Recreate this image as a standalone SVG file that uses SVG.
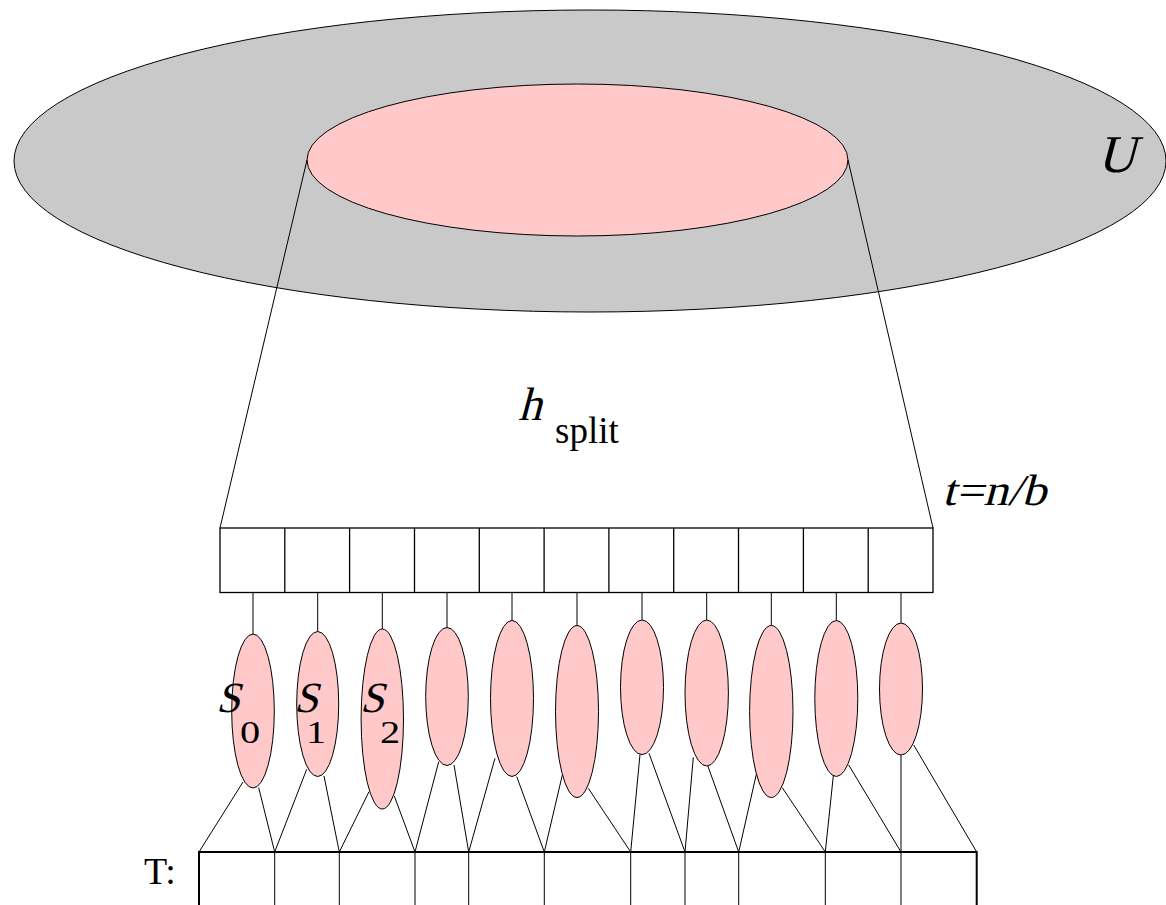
<svg xmlns="http://www.w3.org/2000/svg" width="1166" height="905" viewBox="0 0 1166 905">
<style>
  .ln { stroke: #000; stroke-width: 1; fill: none; }
  .thick { stroke: #000; stroke-width: 2; fill: none; }
  .cell { stroke: #000; stroke-width: 1.3; fill: #fff; }
  .set { fill: #ffc9c9; stroke: #000; stroke-width: 1; }
  .rm { font-family: "Liberation Serif", "Times New Roman", serif; font-style: normal; fill: #000; }
</style>
<rect width="1166" height="905" fill="#fff"/>

<g id="universe">
  <ellipse cx="590" cy="161" rx="576" ry="151" fill="#c9c9c9" stroke="#000" stroke-width="1"/>
  <text class="rm" transform="translate(1097,172) skewX(-15)" font-size="53">U</text>
</g>
<g id="subset">
  <ellipse class="set" cx="577.5" cy="160" rx="270.5" ry="76"/>
</g>

<g id="connectors">
  <line class="ln" x1="307" y1="160" x2="220" y2="528"/>
  <line class="ln" x1="848" y1="160" x2="933" y2="528"/>
  <line class="ln" x1="253" y1="592" x2="253" y2="634"/>
  <line class="ln" x1="317.7" y1="592" x2="317.7" y2="631.5"/>
  <line class="ln" x1="382.3" y1="592" x2="382.3" y2="629"/>
  <line class="ln" x1="447" y1="592" x2="447" y2="627.5"/>
  <line class="ln" x1="512" y1="592" x2="512" y2="620.5"/>
  <line class="ln" x1="577" y1="592" x2="577" y2="625.5"/>
  <line class="ln" x1="642" y1="592" x2="642" y2="620"/>
  <line class="ln" x1="706.7" y1="592" x2="706.7" y2="620"/>
  <line class="ln" x1="771.3" y1="592" x2="771.3" y2="625.5"/>
  <line class="ln" x1="836.3" y1="592" x2="836.3" y2="620.5"/>
  <line class="ln" x1="901" y1="592" x2="901" y2="623"/>
  <line class="ln" x1="243" y1="782" x2="199" y2="852"/>
  <line class="ln" x1="258.7" y1="787.7" x2="274.7" y2="852"/>
  <line class="ln" x1="306.7" y1="769.3" x2="274.7" y2="852"/>
  <line class="ln" x1="324" y1="776" x2="339.3" y2="852"/>
  <line class="ln" x1="369" y1="791.7" x2="339.3" y2="852"/>
  <line class="ln" x1="394.3" y1="796" x2="415" y2="852"/>
  <line class="ln" x1="438.7" y1="761.7" x2="415" y2="852"/>
  <line class="ln" x1="454" y1="765" x2="468.7" y2="852"/>
  <line class="ln" x1="495" y1="758.3" x2="468.7" y2="852"/>
  <line class="ln" x1="516.7" y1="776.5" x2="544.3" y2="852"/>
  <line class="ln" x1="562.3" y1="775" x2="544.3" y2="852"/>
  <line class="ln" x1="588.3" y1="788.3" x2="630.7" y2="852"/>
  <line class="ln" x1="640" y1="754.5" x2="630.7" y2="852"/>
  <line class="ln" x1="649" y1="753.3" x2="685" y2="852"/>
  <line class="ln" x1="693.3" y1="757.3" x2="685" y2="852"/>
  <line class="ln" x1="707.7" y1="765.5" x2="738.7" y2="852"/>
  <line class="ln" x1="756.7" y1="772.7" x2="738.7" y2="852"/>
  <line class="ln" x1="782.3" y1="787.7" x2="825.3" y2="852"/>
  <line class="ln" x1="833.3" y1="776" x2="825.3" y2="852"/>
  <line class="ln" x1="848.7" y1="765" x2="901" y2="852"/>
  <line class="ln" x1="901" y1="755" x2="901" y2="852"/>
  <line class="ln" x1="913.7" y1="745" x2="976.7" y2="852"/>
</g>

<g id="hash-array">
  <rect class="cell" x="220" y="528" width="713" height="64.5"/>
  <line class="cell" x1="284.8" y1="528" x2="284.8" y2="592.5"/>
  <line class="cell" x1="349.6" y1="528" x2="349.6" y2="592.5"/>
  <line class="cell" x1="414.5" y1="528" x2="414.5" y2="592.5"/>
  <line class="cell" x1="479.3" y1="528" x2="479.3" y2="592.5"/>
  <line class="cell" x1="544.1" y1="528" x2="544.1" y2="592.5"/>
  <line class="cell" x1="608.9" y1="528" x2="608.9" y2="592.5"/>
  <line class="cell" x1="673.7" y1="528" x2="673.7" y2="592.5"/>
  <line class="cell" x1="738.5" y1="528" x2="738.5" y2="592.5"/>
  <line class="cell" x1="803.4" y1="528" x2="803.4" y2="592.5"/>
  <line class="cell" x1="868.2" y1="528" x2="868.2" y2="592.5"/>
</g>

<g id="label-hsplit">
  <text class="rm" transform="translate(518,420) skewX(-15)" font-size="47">h</text>
  <text class="rm" x="555" y="443" font-size="37">split</text>
</g>
<g id="label-t">
  <text class="rm" transform="translate(942,505) skewX(-15)" font-size="44" textLength="104" lengthAdjust="spacingAndGlyphs">t=n/b</text>
</g>

<g id="buckets">
  <ellipse id="s0" class="set" cx="253" cy="711" rx="21.3" ry="77"/>
  <ellipse id="s1" class="set" cx="317.7" cy="704" rx="21" ry="72.5"/>
  <ellipse id="s2" class="set" cx="382.3" cy="719" rx="21.2" ry="90"/>
  <ellipse id="s3" class="set" cx="447" cy="696.5" rx="21.3" ry="69"/>
  <ellipse id="s4" class="set" cx="512" cy="698.5" rx="21.5" ry="78"/>
  <ellipse id="s5" class="set" cx="577" cy="711.5" rx="21.5" ry="86"/>
  <ellipse id="s6" class="set" cx="642" cy="687.3" rx="21.5" ry="67.3"/>
  <ellipse id="s7" class="set" cx="706.7" cy="693" rx="21.7" ry="73"/>
  <ellipse id="s8" class="set" cx="771.3" cy="711.5" rx="21.7" ry="86"/>
  <ellipse id="s9" class="set" cx="836.3" cy="698.5" rx="21.5" ry="78"/>
  <ellipse id="s10" class="set" cx="901" cy="689" rx="21.5" ry="66"/>
</g>

<g id="bucket-labels">
  <text class="rm" transform="translate(216,712) skewX(-15)" font-size="43">S</text>
  <text class="rm" transform="translate(240,743) scale(1.3,1)" font-size="31">0</text>
  <text class="rm" transform="translate(294,712) skewX(-15)" font-size="43">S</text>
  <text class="rm" transform="translate(306,743) scale(1.3,1)" font-size="31">1</text>
  <text class="rm" transform="translate(360,712) skewX(-15)" font-size="43">S</text>
  <text class="rm" transform="translate(380,743) scale(1.3,1)" font-size="31">2</text>
</g>

<g id="table-T">
  <text class="rm" x="144" y="884" font-size="38">T:</text>
  <line class="thick" x1="199" y1="852" x2="976.7" y2="852"/>
  <line class="thick" x1="199" y1="851" x2="199" y2="905"/>
  <line class="thick" x1="976.7" y1="851" x2="976.7" y2="905"/>
  <line class="ln" x1="274.7" y1="852" x2="274.7" y2="905"/>
  <line class="ln" x1="339.3" y1="852" x2="339.3" y2="905"/>
  <line class="ln" x1="415" y1="852" x2="415" y2="905"/>
  <line class="ln" x1="468.7" y1="852" x2="468.7" y2="905"/>
  <line class="ln" x1="544.3" y1="852" x2="544.3" y2="905"/>
  <line class="ln" x1="630.7" y1="852" x2="630.7" y2="905"/>
  <line class="ln" x1="685" y1="852" x2="685" y2="905"/>
  <line class="ln" x1="738.7" y1="852" x2="738.7" y2="905"/>
  <line class="ln" x1="825.3" y1="852" x2="825.3" y2="905"/>
  <line class="ln" x1="901" y1="852" x2="901" y2="905"/>
</g>
</svg>
